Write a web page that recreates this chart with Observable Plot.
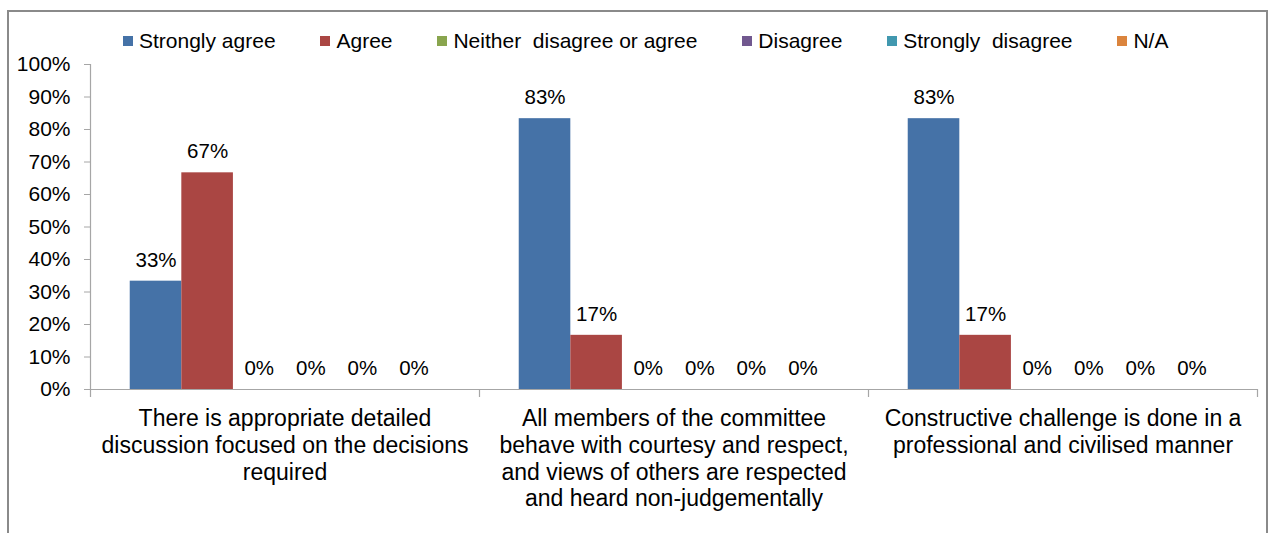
<!DOCTYPE html>
<html>
<head>
<meta charset="utf-8">
<script src="https://cdn.jsdelivr.net/npm/d3@7"></script>
<script src="https://cdn.jsdelivr.net/npm/@observablehq/plot@0.6"></script>
<style>
  html, body { margin: 0; padding: 0; background: #fff; }
  body { width: 1276px; height: 533px; overflow: hidden; position: relative;
         font-family: "Liberation Sans", Arial, sans-serif; }
  #frame { position: absolute; left: 7px; top: 10px; width: 1261px; height: 600px;
           border: 2px solid #8a8a8a; border-bottom: none; box-sizing: border-box; }
  #chart { position: absolute; left: 0; top: 0; }
  #legend { position: absolute; left: 123px; top: 29px; display: flex; align-items: center;
            font-size: 21px; line-height: 24px; color: #000; white-space: nowrap; }
  #legend .item { display: inline-flex; align-items: center; margin-right: 44.9px; }
  #legend .sw { width: 10px; height: 10px; margin-right: 6px; display: inline-block; }
  #legend .lbl { white-space: pre; }
  g[aria-label="y-axis tick"] { stroke: #a6a6a6; }
</style>
</head>
<body>
<div id="frame"></div>
<div id="chart"></div>
<div id="legend"></div>
<script>
// ---- data ----
const categories = [
  "There is appropriate detailed\ndiscussion focused on the decisions\nrequired",
  "All members of the committee\nbehave with courtesy and respect,\nand views of others are respected\nand heard non-judgementally",
  "Constructive challenge is done in a\nprofessional and civilised manner"
];
const series = ["Strongly agree", "Agree", "Neither  disagree or agree", "Disagree", "Strongly  disagree", "N/A"];
const colors = ["#4572A7", "#AA4643", "#89A54E", "#71588F", "#4198AF", "#DB843D"];
const stronglyAgree     = [33.33, 83.33, 83.33];
const agree             = [66.67, 16.67, 16.67];
const neither           = [0, 0, 0];
const disagree          = [0, 0, 0];
const stronglyDisagree  = [0, 0, 0];
const notApplicable     = [0, 0, 0];
const yTicks = [0, 10, 20, 30, 40, 50, 60, 70, 80, 90, 100];

const seriesValues = [stronglyAgree, agree, neither, disagree, stronglyDisagree, notApplicable];
const data = [];
categories.forEach((c, i) => {
  series.forEach((s, j) => data.push({category: c, series: s, value: seriesValues[j][i]}));
});

const font = '"Liberation Sans", Arial, sans-serif';
const axisColor = "#a6a6a6";

const plot = Plot.plot({
  width: 1276,
  height: 533,
  marginLeft: 90,
  marginRight: 19,
  marginTop: 64,
  marginBottom: 144,
  style: {fontFamily: font, color: "#000", background: "transparent", overflow: "visible"},
  fx: {domain: categories, padding: 0, label: null, axis: null, round: false},
  x: {domain: series, paddingInner: 0, paddingOuter: 0.77, axis: null, round: false},
  y: {domain: [0, 100], axis: null},
  color: {domain: series, range: colors},
  marks: [
    Plot.axisY({ticks: yTicks, tickFormat: d => d + "%", tickSize: 6, tickPadding: 14,
                fontSize: 21, label: null, stroke: axisColor, fill: "#000"}),
    Plot.axisFx({anchor: "bottom", tickSize: 0, tickPadding: 18, fontSize: 23,
                 lineHeight: 1.16, label: null, fill: "#000"}),
    Plot.barY(data, {fx: "category", x: "series", y: "value", fill: "series"}),
    Plot.ruleY([0], {stroke: axisColor, strokeWidth: 1.2}),
    Plot.text(data, {fx: "category", x: "series", y: "value",
                     text: d => Math.round(d.value) + "%", dy: -21, fontSize: 20.5, fill: "#000"})
  ]
});

// axis line and category boundary ticks, from the plot's own scales
const fx = plot.scale("fx");
const y = plot.scale("y");
const y0 = y.apply(0), yTop = y.apply(100);
const svg = d3.select(plot);
const bounds = categories.map(c => fx.apply(c));
bounds.push(fx.apply(categories[categories.length - 1]) + fx.bandwidth);
const g = svg.append("g").attr("stroke", axisColor).attr("stroke-width", 1.2);
g.append("line").attr("x1", bounds[0] + 0.5).attr("x2", bounds[0] + 0.5)
  .attr("y1", yTop).attr("y2", y0 + 8);
bounds.slice(1).forEach(b => {
  g.append("line").attr("x1", b + 0.5).attr("x2", b + 0.5).attr("y1", y0).attr("y2", y0 + 8);
});

document.getElementById("chart").appendChild(plot);

// legend from the color scale
const color = plot.scale("color");
const legend = d3.select("#legend");
color.domain.forEach((s, i) => {
  const item = legend.append("span").attr("class", "item");
  item.append("span").attr("class", "sw").style("background", color.range[i]);
  item.append("span").attr("class", "lbl").text(s);
});
</script>
</body>
</html>
